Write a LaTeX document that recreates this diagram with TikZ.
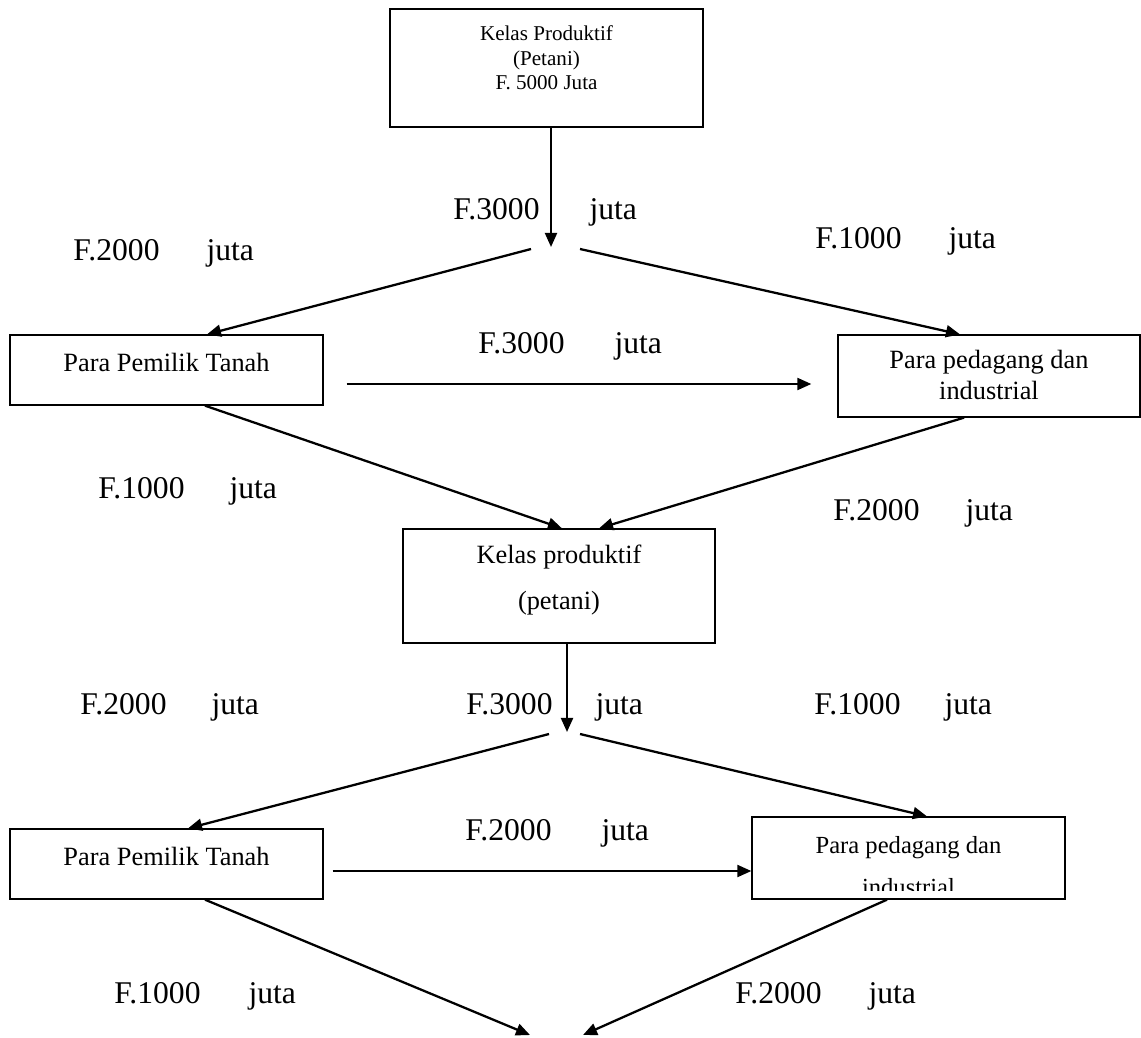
\documentclass[tikz,border=0pt]{standalone}
\usepackage{fontspec}
\setmainfont{Liberation Serif}
\usetikzlibrary{arrows.meta,calc}
\begin{document}
\begin{tikzpicture}[x=0.02cm,y=-0.02cm,
    box/.style={draw,line width=0.75pt,inner sep=0pt,align=center},
    arr/.style={-{Triangle[length=8pt,width=6.8pt]},line width=1.3pt},
    lbl/.style={anchor=base west,inner sep=0pt,font=\fontsize{18}{21}\selectfont}]
                    \useasboundingbox (0,0) rectangle (1141,1037);
                    \node[box,minimum width=6.26cm,minimum height=2.36cm,font=\fontsize{12}{14.2}\selectfont,text height=30pt,text depth=5pt] (kp1) at (546.5,68) {Kelas Produktif\\(Petani)\\F. 5000 Juta};
                    \node[box,minimum width=6.26cm,minimum height=1.40cm,font=\fontsize{15}{17.6}\selectfont,text height=11pt,text depth=9pt] (pt1) at (166.5,370) {Para Pemilik Tanah};
                    \node[box,minimum width=6.04cm,minimum height=1.64cm,font=\fontsize{15}{17.6}\selectfont,text height=30.2pt,text depth=4pt] (pd1) at (989,376) {Para pedagang dan\\industrial};
                    \node[box,minimum width=6.24cm,minimum height=2.28cm,font=\fontsize{15}{26}\selectfont,text height=30.2pt,text depth=4pt] (kp2) at (559,586) {Kelas produktif\\(petani)};
                    \node[box,minimum width=6.26cm,minimum height=1.40cm,font=\fontsize{15}{17.6}\selectfont,text height=11pt,text depth=9pt] (pt2) at (166.5,864) {Para Pemilik Tanah};
                    \node[box,minimum width=6.26cm,minimum height=1.64cm,font=\fontsize{14}{24.3}\selectfont,text height=43.2pt,text depth=0pt] (pd2) at (908.5,858) {Para pedagang dan\\industrial};
                    \fill[white] ($(pd2.south west)+(1.2,-1.3)$) rectangle ($(pd2.south east)+(-1.2,-9)$);
                    \coordinate (s1) at (551,247);
                    \coordinate (s1l) at (531,249);
                    \coordinate (s1r) at (580,249);
                    \coordinate (s2) at (567,732);
                    \coordinate (s2l) at (549,734);
                    \coordinate (s2r) at (580,734);
                    \coordinate (e1) at (530,1035);
                    \coordinate (e2) at (583,1035);
                    \draw[arr] (kp1.south -| s1) -- (s1);
                    \draw[arr] (s1l) -- ($(pt1.north)+(40.5,0)$);
                    \draw[arr] (s1r) -- ($(pd1.north)+(-29,0)$);
                    \draw[arr] ($(pt1.east)+(23,14)$) -- ($(pd1.west)+(-26,8)$);
                    \draw[arr] ($(pt1.south)+(38.5,0)$) -- ($(kp2.north)+(3,0)$);
                    \draw[arr] ($(pd1.south)+(-25,0)$) -- ($(kp2.north)+(40,0)$);
                    \draw[arr] (kp2.south -| s2) -- (s2);
                    \draw[arr] (s2l) -- ($(pt2.north)+(21.5,0)$);
                    \draw[arr] (s2r) -- ($(pd2.north)+(18.5,0)$);
                    \draw[arr] ($(pt2.east)+(9,7)$) -- ($(pd2.west)+(0,13)$);
                    \draw[arr] ($(pt2.south)+(38.5,0)$) -- (e1);
                    \draw[arr] ($(pd2.south)+(-21.5,0)$) -- (e2);
                    \node[lbl] (l1) at (453,219) {F.3000\hspace{1.0cm}juta};
                    \node[lbl] (l2) at (73,260) {F.2000\hspace{0.94cm}juta};
                    \node[lbl] (l3) at (815,248) {F.1000\hspace{0.94cm}juta};
                    \node[lbl] (l4) at (478,353) {F.3000\hspace{1.0cm}juta};
                    \node[lbl] (l5) at (98,498) {F.1000\hspace{0.9cm}juta};
                    \node[lbl] (l6) at (833,520) {F.2000\hspace{0.92cm}juta};
                    \node[lbl] (l7) at (80,714) {F.2000\hspace{0.9cm}juta};
                    \node[lbl] (l8) at (466,714) {F.3000\hspace{0.86cm}juta};
                    \node[lbl] (l9) at (814,714) {F.1000\hspace{0.88cm}juta};
                    \node[lbl] (l10) at (465,840) {F.2000\hspace{1.0cm}juta};
                    \node[lbl] (l11) at (114,1003) {F.1000\hspace{0.96cm}juta};
                    \node[lbl] (l12) at (735,1003) {F.2000\hspace{0.94cm}juta};
\end{tikzpicture}
\end{document}
